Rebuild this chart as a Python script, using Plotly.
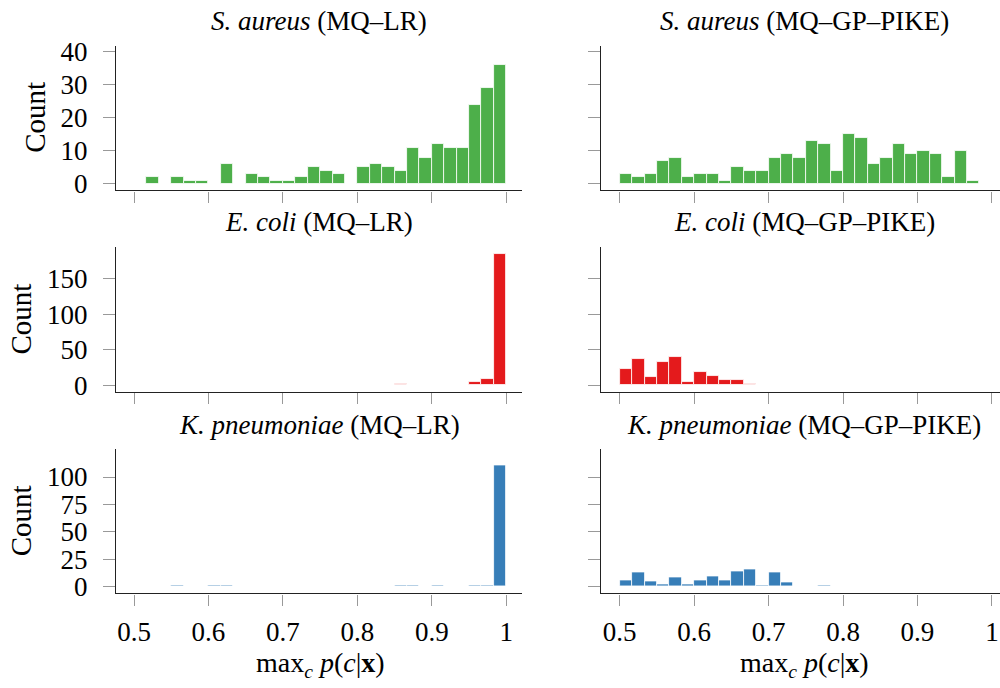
import plotly.graph_objects as go

# ---- data (30 bins of width 1/60 between 0.5 and 1.0) ----
bin_lo = 0.5
bin_w = 1.0 / 60
n_bins = 30

sa_lr = [0, 2, 0, 2, 1, 1, 0, 6, 0, 3, 2, 1, 1, 2, 5, 4, 3, 0, 5, 6, 5, 4, 11, 8, 12, 11, 11, 24, 29, 36]
sa_gp = [3, 2, 3, 7, 8, 2, 3, 3, 1, 5, 4, 4, 8, 9, 8, 13, 12, 4, 15, 14, 6, 8, 12, 9, 10, 9, 2, 10, 1, 0]
ec_lr = [0, 0, 0, 1, 0, 0, 0, 1, 0, 0, 0, 0, 0, 0, 0, 1, 0, 0, 1, 1, 1, 2, 1, 0, 1, 0, 0, 4, 9, 184]
ec_gp = [23, 37, 12, 33, 40, 5, 19, 13, 8, 8, 2, 1, 0, 0, 0, 0, 0, 0, 0, 0, 0, 0, 0, 0, 0, 0, 0, 0, 0, 0]
kp_lr = [0, 0, 0, 1, 0, 0, 1, 1, 0, 0, 0, 0, 0, 0, 0, 0, 0, 0, 0, 0, 0, 1, 1, 0, 1, 0, 0, 1, 1, 111]
kp_gp = [6, 13, 5, 2, 8, 2, 6, 9, 6, 14, 16, 1, 13, 4, 0, 0, 1, 0, 0, 0, 0, 0, 0, 0, 0, 0, 0, 0, 0, 0]

titles = [
    "<i>S. aureus</i> (MQ–LR)", "<i>S. aureus</i> (MQ–GP–PIKE)",
    "<i>E. coli</i> (MQ–LR)", "<i>E. coli</i> (MQ–GP–PIKE)",
    "<i>K. pneumoniae</i> (MQ–LR)", "<i>K. pneumoniae</i> (MQ–GP–PIKE)",
]
colors = ["#4daf4a", "#e41a1c", "#377eb8"]
x_ticks = [0.5, 0.6, 0.7, 0.8, 0.9, 1.0]
x_ticktext = ["0.5", "0.6", "0.7", "0.8", "0.9", "1"]
y_ticks = [[0, 10, 20, 30, 40], [0, 50, 100, 150], [0, 25, 50, 75, 100]]
y_ranges = [[-2.0, 41.8], [-9.8, 194.4], [-6.4, 125.3]]
x_label = "max<sub><i>c</i></sub> <i>p</i>(<i>c</i>|<b>x</b>)"

series = [[sa_lr, sa_gp], [ec_lr, ec_gp], [kp_lr, kp_gp]]

# ---- layout geometry (target screen pixels) ----
W, H = 1000, 688
OFF, S = 8.0, 0.9767  # observed vertical mapping of the viewer


def vy(y_screen):
    """paper y fraction that lands at the given screen pixel row"""
    return 1 - ((y_screen - OFF) / S) / H


col_px = [(116, 522), (601, 1000)]
row_px = [(46, 190.7), (247.3, 392.7), (450, 594.3)]
px_per_unit = 744.4  # pixels per unit on x
x_ranges = [
    [0.5 - (134 - 116) / px_per_unit, 0.5 + (522 - 134) / px_per_unit],
    [0.5 - (619.7 - 601) / px_per_unit, 0.5 + (1000 - 619.7) / px_per_unit],
]

FONT = "Liberation Serif, Times New Roman, serif"
centers = [bin_lo + (k + 0.5) * bin_w for k in range(n_bins)]

fig = go.Figure()
layout = {}
annotations = []
idx = 0
for r in range(3):
    for c in range(2):
        idx += 1
        xa = "x" if idx == 1 else f"x{idx}"
        ya = "y" if idx == 1 else f"y{idx}"
        fig.add_trace(go.Bar(
            x=centers, y=series[r][c], width=bin_w,
            marker=dict(color=colors[r], line=dict(color="white", width=0.8)),
            xaxis=xa, yaxis=ya, showlegend=False, hoverinfo="x+y",
        ))
        x0, x1 = col_px[c]
        y0, y1 = row_px[r]
        layout["xaxis" if idx == 1 else f"xaxis{idx}"] = dict(
            domain=[x0 / W, x1 / W], range=x_ranges[c], anchor=ya,
            tickvals=x_ticks, ticktext=x_ticktext, showticklabels=(r == 2),
            ticks="outside", ticklen=11, tickwidth=1, tickcolor="#999",
            showline=True, linecolor="#222", linewidth=1.3,
            showgrid=False, zeroline=False,
            tickfont=dict(family=FONT, size=27, color="black"),
            ticklabelstandoff=3,
        )
        layout["yaxis" if idx == 1 else f"yaxis{idx}"] = dict(
            domain=[vy(y1), vy(y0)], range=y_ranges[r], anchor=xa,
            tickvals=y_ticks[r], showticklabels=(c == 0),
            ticks="outside", ticklen=12, tickwidth=1, tickcolor="#999",
            showline=True, linecolor="#222", linewidth=1.3,
            showgrid=False, zeroline=False,
            tickfont=dict(family=FONT, size=27, color="black"),
            ticklabelstandoff=10,
        )
        # panel title, centred over the full axis width
        annotations.append(dict(
            text=titles[idx - 1], xref="paper", yref="paper",
            x=(x0 + 203) / W, y=vy(y0 - 24.5),
            xanchor="center", yanchor="middle", showarrow=False,
            font=dict(family=FONT, size=27, color="black"),
        ))

# Count labels
count_pos = [(35, 118), (21, 320), (21, 522)]
for (px, py) in count_pos:
    annotations.append(dict(
        text="Count", xref="paper", yref="paper", x=px / W, y=vy(py),
        xanchor="center", yanchor="middle", textangle=-90, showarrow=False,
        font=dict(family=FONT, size=29, color="black"),
    ))

# x-axis labels
for cxp in (320, 804):
    annotations.append(dict(
        text=x_label, xref="paper", yref="paper", x=cxp / W, y=vy(665),
        xanchor="center", yanchor="middle", showarrow=False,
        font=dict(family=FONT, size=28, color="black"),
    ))

fig.update_layout(
    **layout,
    annotations=annotations,
    width=W, height=H,
    margin=dict(l=0, r=0, t=0, b=0),
    paper_bgcolor="white", plot_bgcolor="white",
    bargap=0,
)

fig.write_html(
    "out.html",
    post_script="document.body.style.margin='0';document.body.style.overflow='hidden';",
)
